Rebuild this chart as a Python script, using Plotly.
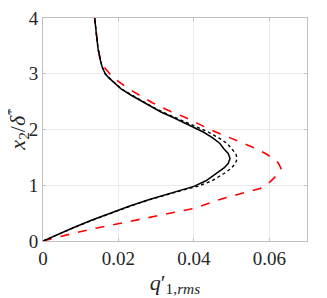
import plotly.graph_objects as go

# solid black
solid_x = [0.0, 0.0040, 0.0080, 0.0130, 0.0180, 0.0230, 0.0280, 0.0330, 0.0365, 0.0400, 0.0432, 0.0460, 0.0480, 0.0491, 0.0496, 0.0491, 0.0480, 0.0469, 0.0450, 0.0425, 0.0403, 0.0375, 0.0344, 0.0314, 0.0278, 0.0235, 0.0207, 0.0186, 0.0174, 0.0165, 0.0157, 0.0151, 0.0146, 0.0142, 0.0139, 0.0137]
solid_y = [0.0, 0.122, 0.238, 0.376, 0.505, 0.627, 0.741, 0.846, 0.915, 0.980, 1.08, 1.21, 1.31, 1.39, 1.48, 1.57, 1.65, 1.75, 1.85, 1.955, 2.03, 2.12, 2.22, 2.31, 2.44, 2.61, 2.73, 2.85, 2.93, 3.00, 3.12, 3.27, 3.45, 3.685, 3.85, 4.0]

# dotted black
dot_x = [0.0, 0.0041, 0.0081, 0.0132, 0.0182, 0.0232, 0.0283, 0.0335, 0.0372, 0.0410, 0.0448, 0.0480, 0.0500, 0.0510, 0.0515, 0.0511, 0.0501, 0.0488, 0.0466, 0.0438, 0.0413, 0.0383, 0.0350, 0.0318, 0.0281, 0.0237, 0.0208, 0.0187, 0.0175, 0.0165, 0.0157, 0.0151, 0.0146, 0.0142, 0.0139, 0.0137]
dot_y = solid_y

# dashed red
red_x = [0.0, 0.0040, 0.0080, 0.0140, 0.0200, 0.0300, 0.0400, 0.0469, 0.0514, 0.0550, 0.0576, 0.0602, 0.0620, 0.0631, 0.0624, 0.0610, 0.0590, 0.0560, 0.0525, 0.0490, 0.0443, 0.0410, 0.0376, 0.0330, 0.0290, 0.0257, 0.0225, 0.0198, 0.0177, 0.0162, 0.0152, 0.0146, 0.0142, 0.0139, 0.0137]
red_y = [0.0, 0.07, 0.137, 0.23, 0.316, 0.447, 0.585, 0.746, 0.83, 0.89, 0.943, 1.06, 1.18, 1.30, 1.40, 1.48, 1.57, 1.67, 1.77, 1.87, 2.00, 2.11, 2.22, 2.35, 2.48, 2.61, 2.74, 2.87, 3.00, 3.12, 3.27, 3.45, 3.685, 3.85, 4.0]

x_ticks = [0, 0.02, 0.04, 0.06]
x_labels = ["0", "0.02", "0.04", "0.06"]
y_ticks = [0, 1, 2, 3, 4]
y_labels = ["0", "1", "2", "3", "4"]

fig = go.Figure()
fig.add_trace(go.Scatter(x=red_x, y=red_y, mode="lines", line=dict(color="red", width=1.6, dash="dash")))
fig.add_trace(go.Scatter(x=dot_x, y=dot_y, mode="lines", line=dict(color="black", width=1.4, dash="dot")))
fig.add_trace(go.Scatter(x=solid_x, y=solid_y, mode="lines", line=dict(color="black", width=1.5)))

font = "Liberation Serif"
fig.update_layout(
    width=319, height=290,
    margin=dict(l=35, r=20, t=10, b=57),
    paper_bgcolor="white", plot_bgcolor="white",
    showlegend=False,
    font=dict(family=font, size=19, color="#262626"),
)
fig.update_xaxes(
    range=[0, 0.07], tickvals=x_ticks, ticktext=x_labels,
    tickfont=dict(family=font, size=19, color="#262626"),
    ticklabeloverflow="allow",
    showgrid=True, gridcolor="#ebebeb", gridwidth=1,
    showline=True, linecolor="#c0c0c0", linewidth=1, mirror="ticks",
    ticks="inside", ticklen=3, tickcolor="#c0c0c0",
    zeroline=False, automargin=False,
    title=dict(text="<i>q</i>′<sub>1,<i>rms</i></sub>", font=dict(family=font, size=22, color="#262626"), standoff=6),
)
fig.update_yaxes(
    range=[0, 4], tickvals=y_ticks, ticktext=y_labels,
    tickfont=dict(family=font, size=19, color="#262626"),
    ticklabeloverflow="allow",
    showgrid=True, gridcolor="#ebebeb", gridwidth=1,
    showline=True, linecolor="#c0c0c0", linewidth=1, mirror="ticks",
    ticks="inside", ticklen=3, tickcolor="#c0c0c0",
    zeroline=False, automargin=False,
)
fig.add_annotation(
    text="<i>x</i><sub>2</sub>/<i>δ</i><sup>*</sup>",
    xref="paper", yref="paper", x=-0.098, y=0.5,
    xanchor="center", yanchor="middle", textangle=-90,
    showarrow=False, font=dict(family=font, size=22, color="#262626"),
)
fig.write_html("out.html")
